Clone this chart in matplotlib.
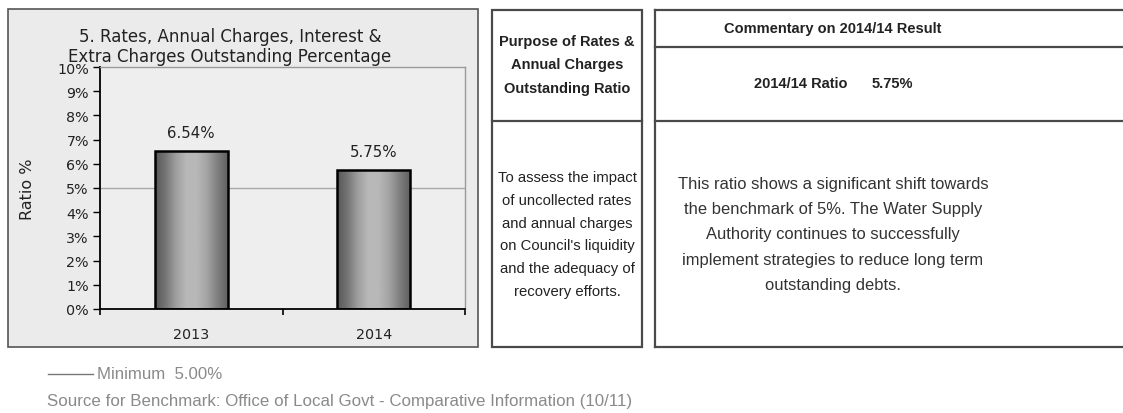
import numpy as np
import matplotlib
matplotlib.use("Agg")
import matplotlib.pyplot as plt
from matplotlib.patches import Rectangle
from matplotlib.lines import Line2D

# ---------- Data ----------
years = ["2013", "2014"]
ratios = [6.54, 5.75]
benchmark = 5.00
yticks = list(range(0, 11))

chart_title = "5. Rates, Annual Charges, Interest &\nExtra Charges Outstanding Percentage"
purpose_head = "Purpose of Rates &\nAnnual Charges\nOutstanding Ratio"
purpose_body = ("To assess the impact\nof uncollected rates\nand annual charges\n"
                "on Council's liquidity\nand the adequacy of\nrecovery efforts.")
comment_head = "Commentary on 2014/14 Result"
ratio_label = "2014/14 Ratio"
ratio_value = f"{ratios[-1]:.2f}%"
comment_body = ("This ratio shows a significant shift towards\nthe benchmark of 5%. The Water Supply\n"
                "Authority continues to successfully\nimplement strategies to reduce long term\n"
                "outstanding debts.")
legend_text = f"Minimum  {benchmark:.2f}%"
source_text = "Source for Benchmark: Office of Local Govt - Comparative Information (10/11)"

plt.rcParams["font.family"] = ["Liberation Sans", "DejaVu Sans"]
CHART_FONT = "DejaVu Sans"
INK = "#222222"

W, H = 1123, 414
fig = plt.figure(figsize=(W / 100, H / 100), dpi=100)
fig.patch.set_facecolor("white")


def fx(px):
    return px / W


def fy(py):
    return 1 - py / H


def box(x0, y0, x1, y1, **kw):
    fig.patches.append(Rectangle((fx(x0), fy(y1)), fx(x1) - fx(x0), fy(y0) - fy(y1),
                                 transform=fig.transFigure, **kw))


def hline(x0, x1, y, color="#4a4a4a", lw=1.6):
    fig.lines.append(Line2D([fx(x0), fx(x1)], [fy(y), fy(y)], transform=fig.transFigure,
                            color=color, lw=lw))


def vline(x, y0, y1, color="#4a4a4a", lw=1.6):
    fig.lines.append(Line2D([fx(x), fx(x)], [fy(y0), fy(y1)], transform=fig.transFigure,
                            color=color, lw=lw))


# ---------- Chart frame ----------
box(8, 10, 478, 348, facecolor="#ebebeb", edgecolor="#555555", lw=1.2, zorder=-1)

ax = fig.add_axes([fx(100), fy(310), fx(465) - fx(100), fy(68) - fy(310)])
ax.set_zorder(1)
ax.set_facecolor("#eeeeee")
x = np.arange(len(years))
bars = ax.bar(x, ratios, width=0.4, facecolor="none", edgecolor="black", lw=1.8, zorder=3)

# horizontal shading inside each bar
shade = np.array([0.34, 0.46, 0.62, 0.72, 0.72, 0.64, 0.50, 0.38])
grad = np.interp(np.linspace(0, 1, 200), np.linspace(0, 1, len(shade)), shade)[None, :]
for b in bars:
    bx, bw, bh = b.get_x(), b.get_width(), b.get_height()
    im = ax.imshow(grad, cmap="gray", vmin=0, vmax=1, aspect="auto",
                   extent=[bx, bx + bw, 0, bh], zorder=2)
    im.set_clip_path(b)

ax.axhline(benchmark, color="#a8a8a8", lw=1.0, zorder=1)

for xi, v in zip(x, ratios):
    ax.text(xi, v + 0.45, f"{v:.2f}%", ha="center", va="bottom", fontsize=10.8,
            color=INK, family=CHART_FONT)

ax.set_xlim(-0.5, len(years) - 0.5)
ax.set_ylim(0, 10)
ax.set_yticks(yticks)
ax.set_yticklabels([f"{t}%" for t in yticks], fontsize=10.3, color=INK, family=CHART_FONT)
ax.set_xticks(np.arange(-0.5, len(years), 1.0))
ax.set_xticklabels([])
ax.set_xticks(x, minor=True)
ax.set_xticklabels(years, minor=True, fontsize=10.3, color=INK, family=CHART_FONT)
ax.tick_params(axis="x", which="minor", length=0, pad=13)
ax.tick_params(axis="x", which="major", direction="out", length=4, width=1.2)
ax.tick_params(axis="y", direction="out", length=5, width=1.0, pad=3)
ax.set_ylabel("Ratio %", fontsize=11.5, color=INK, family=CHART_FONT)
ax.yaxis.set_label_coords(-0.178, 0.5)
for side in ["left", "bottom"]:
    ax.spines[side].set_color("black")
    ax.spines[side].set_linewidth(1.3)
for side in ["top", "right"]:
    ax.spines[side].set_color("#9a9a9a")
    ax.spines[side].set_linewidth(1.0)

fig.text(fx(230), fy(47), chart_title, ha="center", va="center", fontsize=12,
         color=INK, family=CHART_FONT, linespacing=1.15, zorder=2)

# ---------- Legend and source ----------
hline(48, 93, 375, color="#777777", lw=1.0)
fig.text(fx(97), fy(375), legend_text, ha="left", va="center", fontsize=12.1, color="#8a8a8a")
fig.text(fx(47), fy(402), source_text, ha="left", va="center", fontsize=12.2, color="#8a8a8a")

# ---------- Purpose table ----------
box(492, 11, 642, 348, facecolor="white", edgecolor="#4a4a4a", lw=1.6, zorder=-1)
hline(492, 642, 122)
fig.text(fx(567), fy(65.5), purpose_head, ha="center", va="center", fontsize=10.5,
         fontweight="bold", color=INK, linespacing=1.82)
fig.text(fx(567), fy(235), purpose_body, ha="center", va="center", fontsize=10.7,
         color=INK, linespacing=1.8)

# ---------- Commentary table ----------
hline(655, W + 5, 11)
hline(655, W + 5, 348)
vline(655, 11, 348)
hline(655, W + 5, 48)
hline(655, W + 5, 122)
fig.text(fx(833), fy(29), comment_head, ha="center", va="center", fontsize=10.5,
         fontweight="bold", color=INK)
fig.text(fx(847), fy(84), ratio_label, ha="right", va="center", fontsize=10.5,
         fontweight="bold", color=INK)
fig.text(fx(872), fy(84), ratio_value, ha="left", va="center", fontsize=10.5,
         fontweight="bold", color=INK)
fig.text(fx(833), fy(235), comment_body, ha="center", va="center", fontsize=11.85,
         color="#333333", linespacing=1.85)

fig.savefig("out.png", dpi=100, facecolor="white")
